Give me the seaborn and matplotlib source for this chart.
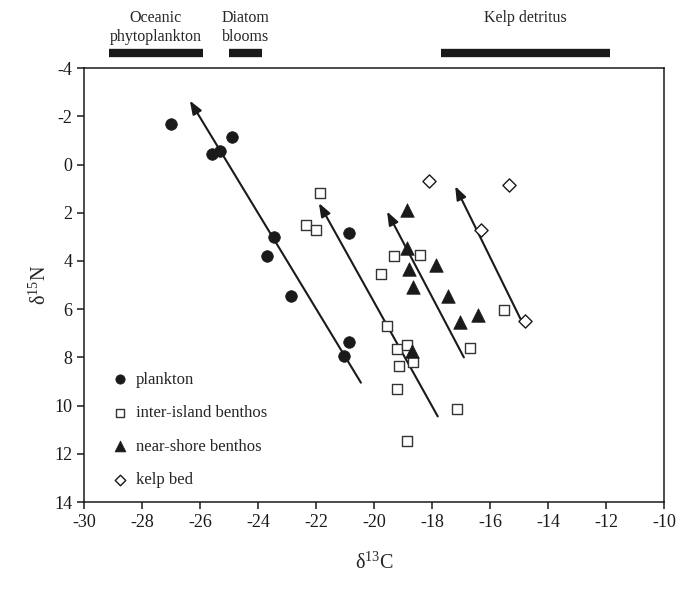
"""
plot.py
Stable isotope biplot (d13C vs d15N) for plankton, benthos and kelp bed samples.
"""

import matplotlib
matplotlib.use("Agg")
import matplotlib.pyplot as plt
import seaborn as sns


# ----------------------------------------------------
# Data
# ----------------------------------------------------
plankton_c = [-27.0, -25.6, -25.3, -24.9, -23.45, -23.7, -22.85, -20.85, -20.85, -21.05]
plankton_n = [-1.7, -0.45, -0.55, -1.15, 3.0, 3.8, 5.45, 2.85, 7.35, 7.95]

inter_c = [-21.85, -22.35, -22.0, -19.3, -18.4, -19.75, -19.55, -19.2, -18.85,
           -18.65, -19.15, -19.2, -17.15, -18.85, -16.7, -15.5]
inter_n = [1.2, 2.5, 2.7, 3.8, 3.75, 4.55, 6.7, 7.65, 7.5,
           8.2, 8.35, 9.3, 10.15, 11.45, 7.6, 6.05]

near_c = [-18.85, -18.85, -18.8, -18.65, -17.85, -17.45, -17.05, -18.7, -16.4]
near_n = [1.9, 3.45, 4.35, 5.1, 4.15, 5.45, 6.55, 7.75, 6.25]

kelp_c = [-18.1, -15.35, -16.3, -14.8]
kelp_n = [0.7, 0.85, 2.7, 6.5]

# trend arrows: (tail_c, tail_n, head_c, head_n)
arrow_tail_c = [-20.45, -17.8, -16.9, -14.95]
arrow_tail_n = [9.05, 10.45, 8.0, 6.4]
arrow_head_c = [-26.35, -21.9, -19.55, -17.2]
arrow_head_n = [-2.65, 1.6, 1.95, 0.9]

# carbon source ranges shown above the plot
source_names = ["Oceanic\nphytoplankton", "Diatom\nblooms", "Kelp detritus"]
source_start = [-29.15, -25.0, -17.7]
source_end = [-25.9, -23.85, -11.85]


def main():
    sns.set_style("ticks")
    plt.rcParams["font.family"] = ["Liberation Serif", "DejaVu Serif"]
    plt.rcParams["mathtext.fontset"] = "custom"
    plt.rcParams["mathtext.rm"] = "Liberation Serif"
    plt.rcParams["axes.unicode_minus"] = False

    fig = plt.figure(figsize=(6.85, 5.92), dpi=100)
    ax = fig.add_axes([0.1226, 0.152, 0.8467, 0.733])

    # ----------------------------------------------------
    # Scatter groups
    # ----------------------------------------------------
    sns.scatterplot(x=plankton_c, y=plankton_n, ax=ax, marker="o", s=70,
                    color="#1a1a1a", edgecolor="#1a1a1a", linewidth=0.5,
                    label="plankton", zorder=3)
    sns.scatterplot(x=inter_c, y=inter_n, ax=ax, marker="s", s=62,
                    facecolor="white", edgecolor="#333333", linewidth=1.0,
                    label="inter-island benthos", zorder=3)
    sns.scatterplot(x=near_c, y=near_n, ax=ax, marker="^", s=95,
                    color="#1a1a1a", edgecolor="#1a1a1a", linewidth=0.5,
                    label="near-shore benthos", zorder=3)
    sns.scatterplot(x=kelp_c, y=kelp_n, ax=ax, marker="D", s=45,
                    facecolor="white", edgecolor="#1a1a1a", linewidth=1.0,
                    label="kelp bed", zorder=3)

    # ----------------------------------------------------
    # Trend arrows
    # ----------------------------------------------------
    for tc, tn, hc, hn in zip(arrow_tail_c, arrow_tail_n, arrow_head_c, arrow_head_n):
        ax.annotate("", xy=(hc, hn), xytext=(tc, tn),
                    arrowprops=dict(arrowstyle="-|>,head_length=0.8,head_width=0.3",
                                    color="#1a1a1a", lw=1.5, shrinkA=0, shrinkB=0),
                    zorder=2)

    # ----------------------------------------------------
    # Axes
    # ----------------------------------------------------
    ax.set_xlim(-30, -10)
    ax.set_ylim(14, -4)
    ax.set_xticks(range(-30, -9, 2))
    ax.set_yticks(range(-4, 15, 2))
    ax.tick_params(direction="out", length=5, width=1.1, labelsize=13,
                   colors="#1a1a1a", top=False, right=False)
    for spine in ax.spines.values():
        spine.set_linewidth(1.1)
        spine.set_color("#1a1a1a")

    ax.set_xlabel(r"$\mathregular{\delta^{13}}$C", fontsize=14.5, labelpad=16)
    ax.set_ylabel(r"$\mathregular{\delta^{15}}$N", fontsize=14.5, labelpad=2)

    # ----------------------------------------------------
    # Source bars above the plot
    # ----------------------------------------------------
    ax.hlines([-4.62] * len(source_start), source_start, source_end,
              colors="#1a1a1a", linewidth=6, capstyle="butt", clip_on=False)
    for name, x0, x1 in zip(source_names, source_start, source_end):
        ax.text((x0 + x1) / 2, -6.4, name, ha="center", va="top",
                fontsize=11.5, linespacing=1.2, clip_on=False)

    # ----------------------------------------------------
    # Legend
    # ----------------------------------------------------
    ax.legend(loc="lower left", bbox_to_anchor=(0.028, 0.005), frameon=False,
              fontsize=12, labelspacing=1.05, handlelength=1.0,
              handletextpad=0.45, borderaxespad=0.3, scatterpoints=1,
              markerscale=0.8)

    fig.savefig("out.png", dpi=100)
    plt.close(fig)


if __name__ == "__main__":
    main()
